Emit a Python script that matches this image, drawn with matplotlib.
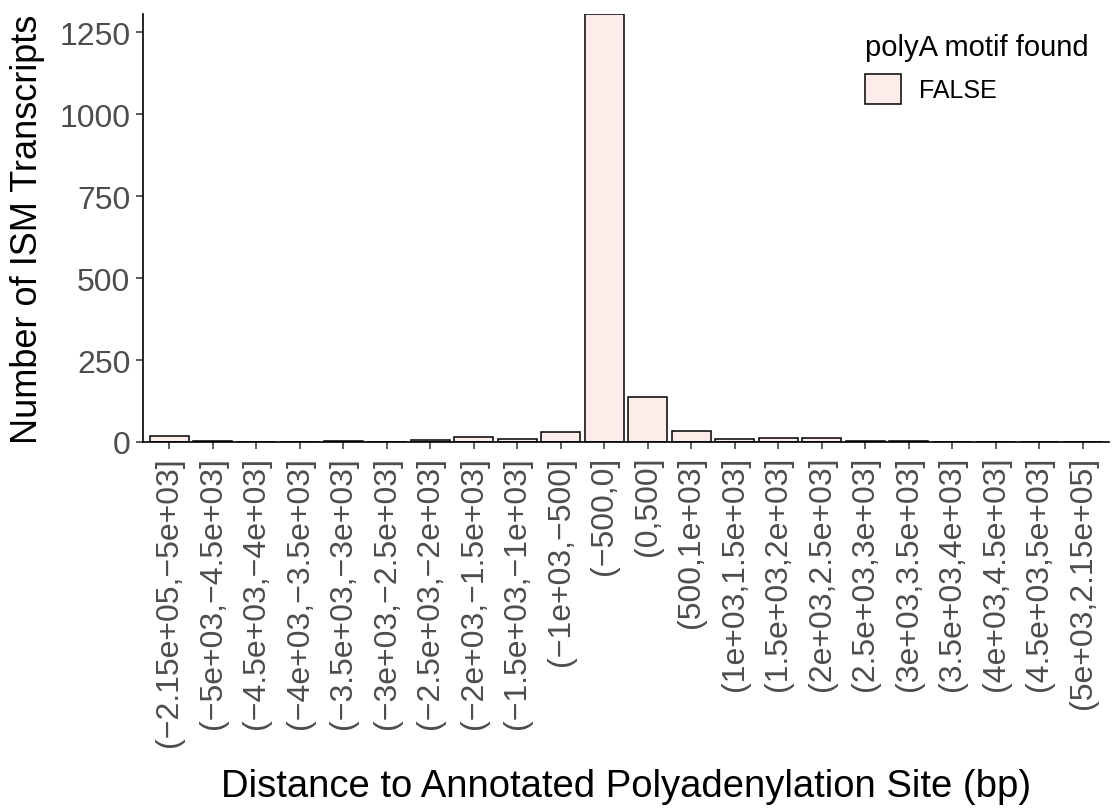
import numpy as np
import matplotlib.pyplot as plt
from matplotlib.patches import Patch

plt.rcParams['font.family'] = ['Liberation Sans', 'DejaVu Sans']

# bins (distance to annotated polyA site) and counts
bins = ['(\u22122.15e+05,\u22125e+03]', '(\u22125e+03,\u22124.5e+03]', '(\u22124.5e+03,\u22124e+03]',
        '(\u22124e+03,\u22123.5e+03]', '(\u22123.5e+03,\u22123e+03]', '(\u22123e+03,\u22122.5e+03]',
        '(\u22122.5e+03,\u22122e+03]', '(\u22122e+03,\u22121.5e+03]', '(\u22121.5e+03,\u22121e+03]',
        '(\u22121e+03,\u2212500]', '(\u2212500,0]', '(0,500]', '(500,1e+03]', '(1e+03,1.5e+03]',
        '(1.5e+03,2e+03]', '(2e+03,2.5e+03]', '(2.5e+03,3e+03]', '(3e+03,3.5e+03]',
        '(3.5e+03,4e+03]', '(4e+03,4.5e+03]', '(4.5e+03,5e+03]', '(5e+03,2.15e+05]']
counts = [17, 3, 1, 1, 2, 1, 6, 16, 10, 30, 1305, 137, 34, 9, 12, 13, 4, 2, 1, 1, 0, 0]

fill = '#FCEDEB'

fig = plt.figure(figsize=(11.13, 8.12), dpi=100)
ax = fig.add_axes([143 / 1113, 1 - 443 / 812, (1109 - 143) / 1113, (443 - 15) / 812])

x = np.arange(len(bins))
ax.bar(x, counts, width=0.9, color=fill, edgecolor='black', linewidth=1.1)

ax.set_xlim(-0.6, len(bins) - 0.4)
ax.set_ylim(0, max(counts))
ax.set_yticks([0, 250, 500, 750, 1000, 1250])
ax.set_xticks(x)
ax.set_xticklabels(bins, rotation=90, ha='center', va='top')

for s in ['top', 'right']:
    ax.spines[s].set_visible(False)
for s in ['left', 'bottom']:
    ax.spines[s].set_linewidth(1.2)
ax.tick_params(axis='both', labelsize=23, labelcolor='#4D4D4D', color='#333333',
               length=5, width=1.1)
ax.tick_params(axis='y', pad=4)
ax.tick_params(axis='x', pad=5)
ax.grid(False)

ax.set_xlabel('Distance to Annotated Polyadenylation Site (bp)', fontsize=27.5, labelpad=16)
ax.set_ylabel('Number of ISM Transcripts', fontsize=26, labelpad=10)

fig.legend(handles=[Patch(facecolor=fill, edgecolor='black', linewidth=1.1, label='FALSE')],
           title='polyA motif found', loc='upper left', bbox_to_anchor=(865 / 1113, 1 - 34 / 812),
           frameon=False, fontsize=18, title_fontsize=21, handlelength=1.45,
           handleheight=1.5, handletextpad=0.7, borderpad=0, borderaxespad=0,
           alignment='left')

fig.savefig('out.png', dpi=100)
